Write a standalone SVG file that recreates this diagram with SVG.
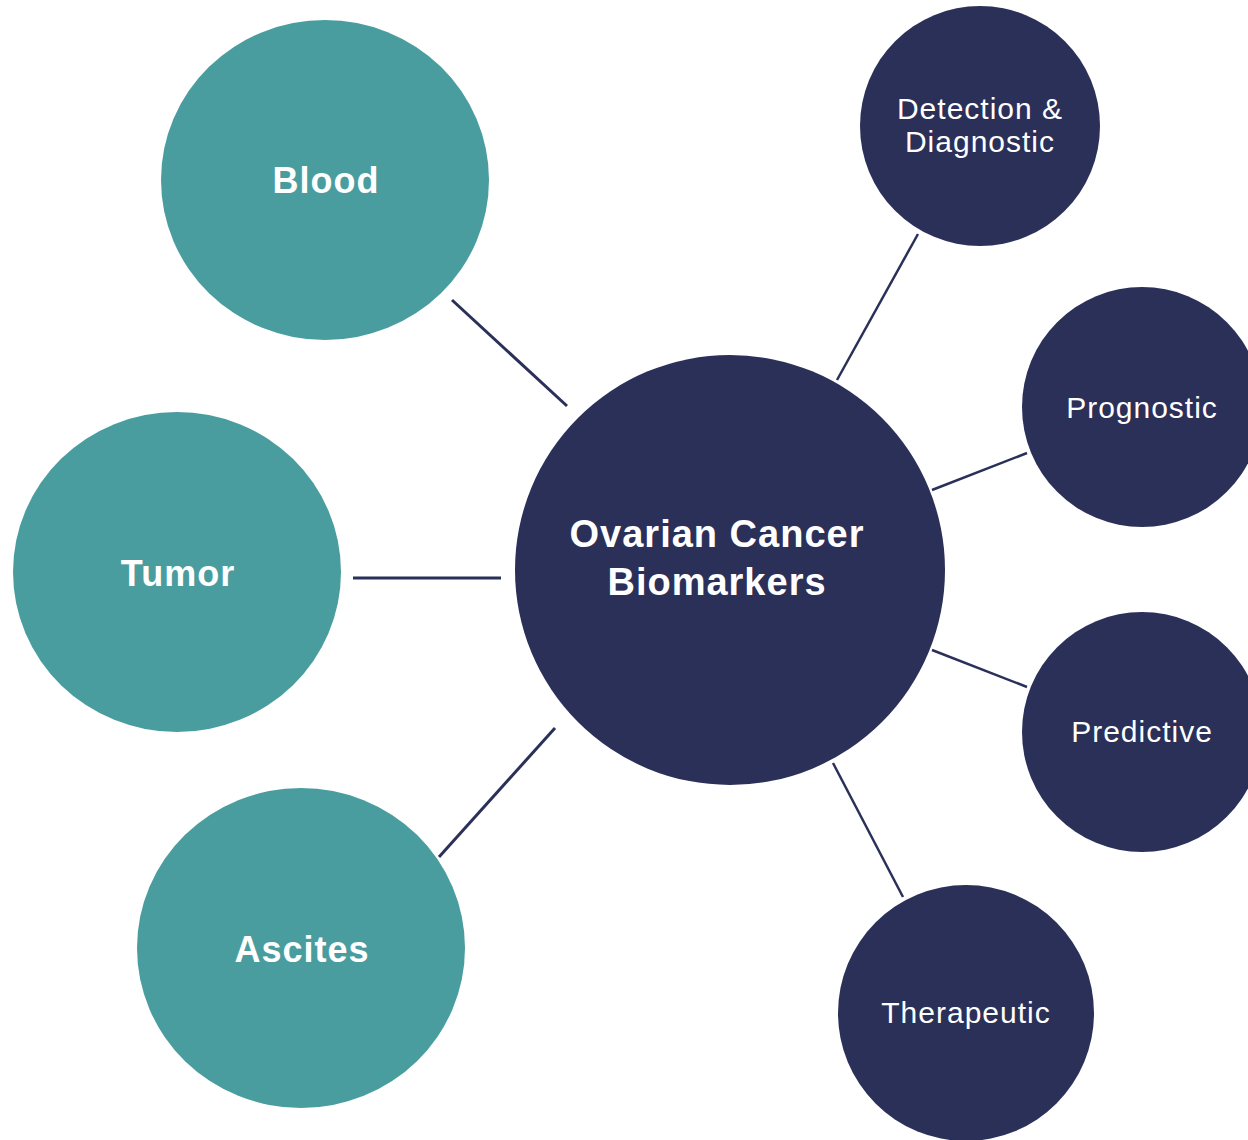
<svg xmlns="http://www.w3.org/2000/svg" width="1248" height="1140" viewBox="0 0 1248 1140">
  <style>
    .src { fill: #4a9d9f; }
    .kind { fill: #2b3059; }
    .hub { fill: #2b3059; }
    .link { stroke: #2b3059; stroke-width: 3; fill: none; }
    .thin { stroke-width: 2.5; }
    .lbl-b { font-family: "Liberation Sans", Arial, sans-serif; font-weight: bold; fill: #ffffff; text-anchor: middle; font-size: 36px; letter-spacing: 1px; }
    .title { font-size: 38px; letter-spacing: 1px; }
    .lbl { font-family: "Liberation Sans", Arial, sans-serif; fill: #ffffff; text-anchor: middle; font-size: 30px; letter-spacing: 1px; }
  </style>
  <rect width="1248" height="1140" fill="#ffffff"/>

  <!-- connectors -->
  <g id="connectors">
    <line class="link" x1="452" y1="300" x2="567" y2="406"/>
    <line class="link" x1="353" y1="578" x2="501" y2="578"/>
    <line class="link" x1="439" y1="857" x2="555" y2="728"/>
    <line class="link thin" x1="918" y1="234" x2="837" y2="380"/>
    <line class="link thin" x1="932" y1="490" x2="1027" y2="453"/>
    <line class="link thin" x1="932" y1="650" x2="1027" y2="687"/>
    <line class="link thin" x1="833" y1="763" x2="903" y2="897"/>
  </g>

  <!-- central node -->
  <g id="hub">
    <circle class="hub" cx="730" cy="570" r="215"/>
    <text class="lbl-b title" x="717" y="547">Ovarian Cancer</text>
    <text class="lbl-b title" x="717" y="595">Biomarkers</text>
  </g>

  <!-- sample sources -->
  <g id="blood">
    <ellipse class="src" cx="325" cy="180" rx="164" ry="160"/>
    <text class="lbl-b" x="326" y="193">Blood</text>
  </g>
  <g id="tumor">
    <ellipse class="src" cx="177" cy="572" rx="164" ry="160"/>
    <text class="lbl-b" x="178" y="586">Tumor</text>
  </g>
  <g id="ascites">
    <ellipse class="src" cx="301" cy="948" rx="164" ry="160"/>
    <text class="lbl-b" x="302" y="962">Ascites</text>
  </g>

  <!-- biomarker types -->
  <g id="detection">
    <circle class="kind" cx="980" cy="126" r="120"/>
    <text class="lbl" x="980" y="119">Detection &amp;</text>
    <text class="lbl" x="980" y="152">Diagnostic</text>
  </g>
  <g id="prognostic">
    <circle class="kind" cx="1142" cy="407" r="120"/>
    <text class="lbl" x="1142" y="418">Prognostic</text>
  </g>
  <g id="predictive">
    <circle class="kind" cx="1142" cy="732" r="120"/>
    <text class="lbl" x="1142" y="742">Predictive</text>
  </g>
  <g id="therapeutic">
    <circle class="kind" cx="966" cy="1013" r="128"/>
    <text class="lbl" x="966" y="1023">Therapeutic</text>
  </g>
</svg>
